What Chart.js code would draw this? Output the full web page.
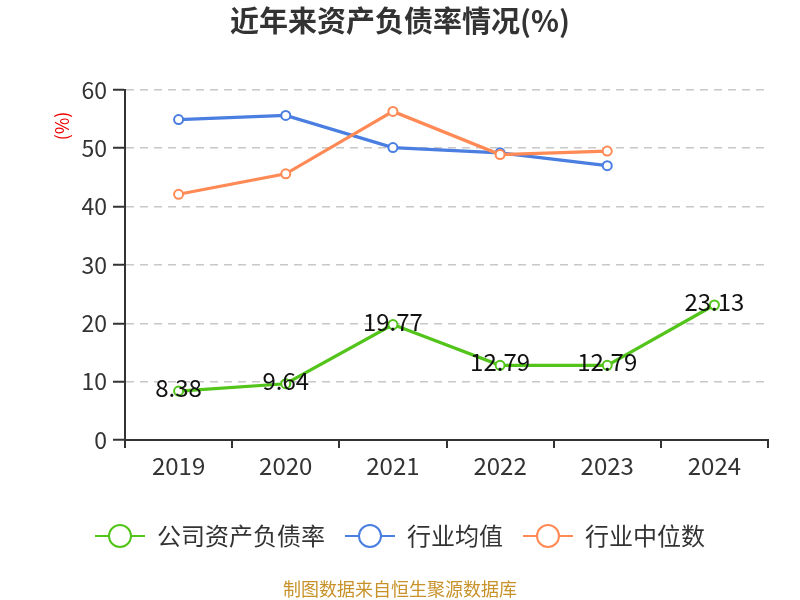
<!DOCTYPE html>
<html>
<head>
<meta charset="utf-8">
<script src="https://cdn.jsdelivr.net/npm/chart.js@4"></script>
<style>
  html, body { margin: 0; padding: 0; background: #fff; }
  #wrap { width: 800px; height: 600px; }
</style>
</head>
<body>
<div id="wrap"><canvas id="debtChart" width="800" height="600"></canvas></div>
<script>
const years = ["2019", "2020", "2021", "2022", "2023", "2024"];
const companyRatio = [8.38, 9.64, 19.77, 12.79, 12.79, 23.13];
const industryAvg = [54.9, 55.6, 50.1, 49.2, 47.0, null];
const industryMedian = [42.1, 45.6, 56.3, 48.9, 49.5, null];
const yTicks = [0, 10, 20, 30, 40, 50, 60];

const FONT = "'Noto Sans CJK SC', 'Noto Sans', sans-serif";

// legend marker: short line with hollow circle
function legendMarker(color) {
  const c = document.createElement("canvas");
  c.width = 50;
  c.height = 26;
  const g = c.getContext("2d");
  g.strokeStyle = color;
  g.lineWidth = 2;
  g.beginPath();
  g.moveTo(0, 13);
  g.lineTo(50, 13);
  g.stroke();
  g.beginPath();
  g.arc(25, 13, 11, 0, Math.PI * 2);
  g.fillStyle = "#fff";
  g.fill();
  g.stroke();
  return c;
}

function makeSet(label, data, color, order) {
  return {
    label: label,
    data: data,
    order: order,
    borderColor: color,
    backgroundColor: "#fff",
    borderWidth: 3.2,
    pointRadius: 4.5,
    pointBorderWidth: 2,
    pointBackgroundColor: "#fff",
    pointBorderColor: color,
    pointStyle: "circle",
    tension: 0,
    spanGaps: false,
  };
}

const green = "#52c41a";
const blue = "#4a7ee0";
const orange = "#ff8a55";

const datasets = [
  makeSet("公司资产负债率", companyRatio, green, 0),
  makeSet("行业均值", industryAvg, blue, 2),
  makeSet("行业中位数", industryMedian, orange, 1),
];
const markers = [legendMarker(green), legendMarker(blue), legendMarker(orange)];

// value labels on the company series + extra texts
const extraText = {
  id: "extraText",
  afterDatasetsDraw(chart) {
    const ctx = chart.ctx;
    ctx.save();
    const meta = chart.getDatasetMeta(0);
    ctx.font = "24px " + FONT;
    ctx.fillStyle = "#111";
    ctx.textAlign = "center";
    ctx.textBaseline = "middle";
    meta.data.forEach((pt, i) => {
      ctx.fillText(companyRatio[i].toFixed(2), pt.x, pt.y - 3);
    });
    ctx.restore();
  },
  afterDraw(chart) {
    const ctx = chart.ctx;
    ctx.save();
    // y unit label
    ctx.translate(62, 126);
    ctx.rotate(-Math.PI / 2);
    ctx.font = "18px " + FONT;
    ctx.fillStyle = "#e00";
    ctx.textAlign = "center";
    ctx.textBaseline = "middle";
    ctx.fillText("(%)", 0, 0);
    ctx.restore();
    // source
    ctx.save();
    ctx.font = "18px " + FONT;
    ctx.fillStyle = "#c8922a";
    ctx.textAlign = "center";
    ctx.textBaseline = "middle";
    ctx.fillText("制图数据来自恒生聚源数据库", 400, 589);
    ctx.restore();
  },
};

new Chart(document.getElementById("debtChart"), {
  type: "line",
  data: { labels: years, datasets: datasets },
  options: {
    responsive: false,
    animation: false,
    layout: { padding: { left: 32, right: 32, top: 4, bottom: 42 } },
    plugins: {
      title: {
        display: true,
        text: "近年来资产负债率情况(%)",
        color: "#333",
        font: { family: FONT, size: 29, weight: "bold" },
        padding: { top: 0, bottom: 51 },
      },
      legend: {
        position: "bottom",
        labels: {
          usePointStyle: true,
          pointStyleWidth: 50,
          color: "#333",
          padding: 20,
          font: { family: FONT, size: 24 },
          generateLabels(chart) {
            return chart.data.datasets.map((ds, i) => ({
              text: ds.label,
              pointStyle: markers[i],
              fillStyle: "#fff",
              strokeStyle: ds.borderColor,
              lineWidth: 0,
              hidden: false,
              datasetIndex: i,
              fontColor: "#333",
            }));
          },
        },
      },
      tooltip: { enabled: false },
    },
    scales: {
      x: {
        offset: true,
        afterFit(s) { s.height = 64; },
        grid: {
          offset: true,
          drawOnChartArea: false,
          drawTicks: true,
          tickLength: 8,
          color: "#333",
          lineWidth: 2,
        },
        border: { display: true, color: "#333", width: 2 },
        ticks: {
          color: "#333",
          padding: 3,
          font: { family: FONT, size: 24 },
        },
      },
      y: {
        min: 0,
        max: 60,
        afterFit(s) { s.width = 93; },
        afterBuildTicks(s) { s.ticks = yTicks.map((v) => ({ value: v })); },
        grid: {
          color: "#c8c8c8",
          lineWidth: 1.5,
          tickLength: 12,
          tickColor: "#333",
          tickWidth: 2,
        },
        border: { display: true, color: "#333", width: 2, dash: [8, 6] },
        ticks: {
          color: "#333",
          padding: 6,
          font: { family: FONT, size: 23 },
        },
      },
    },
  },
  plugins: [extraText],
});
</script>
</body>
</html>
